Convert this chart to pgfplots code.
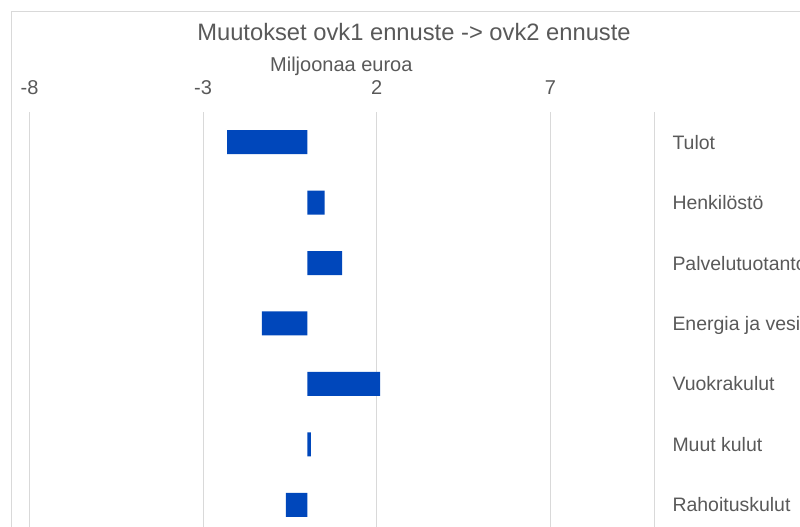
\documentclass[border=0pt]{standalone}
\usepackage{pgfplots}
\pgfplotsset{compat=1.18}
\usepackage{fontspec}
\setmainfont{Liberation Sans}
\definecolor{barblue}{RGB}{0,71,187}
\definecolor{txtgray}{RGB}{89,89,89}
\definecolor{gridgray}{RGB}{217,217,217}
\begin{document}
\begin{tikzpicture}
\useasboundingbox (0,0) rectangle (600pt,395.25pt);
\clip (0,0) rectangle (600pt,395.25pt);
\draw[gridgray, line width=0.75pt] (8.75pt,-20pt) -- (8.75pt,386.5pt) -- (700pt,386.5pt);
\begin{axis}[
  at={(22.125pt,311.25pt)}, anchor=north west,
  scale only axis, width=468.75pt, height=317.25pt,
  xmin=-8, xmax=10, ymin=0.5, ymax=7.5,
  xbar, bar width=18pt,
  axis line style={draw=none},
  xtick={-8,-3,2,7}, xticklabels={-8,-3,2,7},
  extra x ticks={10}, extra x tick labels={},
  extra x tick style={grid=major},
  xmajorgrids, grid style={gridgray, line width=0.75pt},
  xticklabel pos=upper,
  ytick={1,...,7},
  yticklabels={Rahoituskulut,Muut kulut,Vuokrakulut,Energia ja vesi,Palvelutuotanto,Henkilöstö,Tulot},
  yticklabel pos=right,
  major tick length=0pt,
  tick label style={font=\fontsize{15pt}{18pt}\selectfont, text=txtgray, inner sep=0pt},
  xticklabel style={anchor=base, yshift=12.75pt},
  yticklabel style={anchor=base west, xshift=13.3pt, yshift=-5.3pt, font=\fontsize{14.6pt}{18pt}\selectfont},
  clip=false,
]
\addplot[fill=barblue, draw=none] coordinates {(-0.62,1) (0.10,2) (2.10,3) (-1.31,4) (1.00,5) (0.50,6) (-2.31,7)};
\end{axis}
\node[anchor=base, font=\fontsize{17.8pt}{21pt}\selectfont, text=txtgray] at (310.5pt,364.5pt) {Muutokset ovk1 ennuste -> ovk2 ennuste};
\node[anchor=base, font=\fontsize{15pt}{18pt}\selectfont, text=txtgray] at (256pt,341.5pt) {Miljoonaa euroa};
\end{tikzpicture}
\end{document}
